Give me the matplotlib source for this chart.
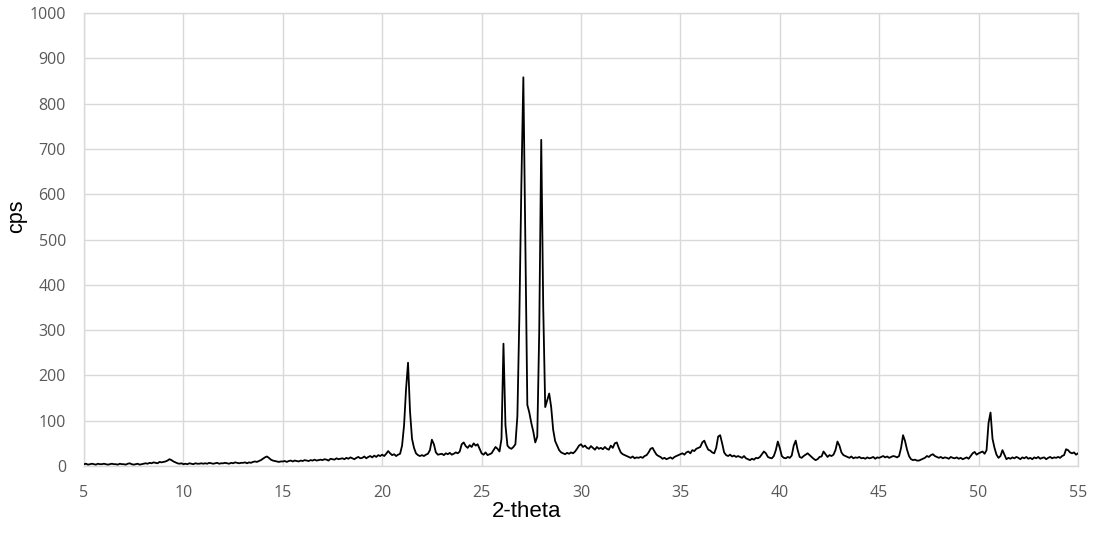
import numpy as np
import matplotlib
matplotlib.use("Agg")
import matplotlib.pyplot as plt

# 2-theta grid start/step (0.1 deg) and measured cps per 1-degree row
theta_start = 5.0
theta_step = 0.1
cps_rows = [
    [4, 5, 3, 4, 5, 4, 3, 5, 4, 4],            # 5
    [5, 4, 3, 4, 5, 4, 4, 3, 5, 4],            # 6
    [4, 3, 5, 6, 4, 3, 4, 5, 3, 4],            # 7
    [5, 6, 5, 7, 6, 8, 7, 6, 9, 8],            # 8
    [9, 10, 12, 15, 13, 10, 8, 6, 5, 6],       # 9
    [4, 5, 4, 6, 5, 4, 6, 5, 5, 6],            # 10
    [5, 6, 5, 7, 6, 5, 6, 7, 5, 6],            # 11
    [6, 7, 6, 5, 7, 6, 8, 7, 6, 7],            # 12
    [7, 8, 6, 8, 7, 9, 10, 9, 11, 13],         # 13
    [16, 19, 21, 18, 14, 12, 11, 10, 9, 10],   # 14
    [10, 11, 9, 11, 12, 10, 12, 11, 10, 12],   # 15
    [11, 13, 12, 11, 13, 12, 14, 12, 13, 14],  # 16
    [13, 15, 14, 12, 16, 15, 14, 17, 15, 16],  # 17
    [17, 15, 18, 16, 19, 17, 15, 18, 20, 17],  # 18
    [18, 21, 17, 20, 22, 19, 23, 20, 24, 22],  # 19
    [25, 22, 27, 33, 28, 24, 26, 22, 25, 27],  # 20
    [45, 90, 170, 228, 120, 60, 40, 28, 24, 22],   # 21
    [24, 22, 25, 27, 35, 58, 48, 30, 25, 26],  # 22
    [27, 24, 28, 26, 29, 25, 27, 30, 28, 32],  # 23
    [48, 52, 44, 40, 46, 42, 50, 45, 48, 38],  # 24
    [28, 25, 30, 24, 26, 28, 35, 42, 38, 32],  # 25
    [60, 270, 90, 45, 40, 38, 42, 48, 110, 330],   # 26
    [620, 858, 500, 135, 118, 95, 76, 52, 65, 300],  # 27
    [720, 350, 130, 145, 160, 130, 80, 55, 45, 35],  # 28
    [30, 28, 26, 29, 27, 30, 28, 32, 38, 45],  # 29
    [48, 42, 45, 40, 38, 44, 40, 36, 42, 38],  # 30
    [40, 37, 42, 38, 36, 45, 40, 50, 52, 40],  # 31
    [30, 26, 24, 22, 20, 18, 21, 17, 19, 18],  # 32
    [20, 18, 22, 24, 30, 38, 40, 32, 25, 22],  # 33
    [20, 16, 18, 15, 17, 19, 16, 20, 22, 24],  # 34
    [26, 28, 25, 30, 32, 28, 35, 33, 38, 40],  # 35
    [42, 52, 56, 45, 36, 34, 30, 28, 40, 65],  # 36
    [68, 50, 30, 24, 22, 25, 21, 23, 20, 22],  # 37
    [20, 18, 22, 17, 15, 13, 16, 14, 18, 17],  # 38
    [20, 26, 32, 28, 20, 18, 17, 22, 35, 54],  # 39
    [40, 22, 18, 17, 20, 18, 23, 45, 56, 35],  # 40
    [20, 18, 22, 25, 28, 24, 20, 16, 13, 15],  # 41
    [20, 21, 32, 26, 20, 24, 22, 25, 35, 54],  # 42
    [45, 30, 24, 22, 20, 18, 21, 17, 19, 18],  # 43
    [20, 17, 18, 16, 19, 17, 18, 20, 16, 19],  # 44
    [18, 20, 22, 19, 21, 18, 20, 22, 21, 19],  # 45
    [22, 40, 68, 55, 36, 22, 15, 13, 14, 12],  # 46
    [12, 14, 16, 18, 22, 20, 24, 26, 22, 20],  # 47
    [18, 20, 17, 19, 18, 16, 20, 18, 17, 19],  # 48
    [16, 18, 15, 17, 19, 16, 22, 28, 31, 25],  # 49
    [28, 30, 32, 27, 35, 95, 118, 60, 40, 25], # 50
    [18, 22, 35, 25, 15, 18, 16, 19, 17, 20],  # 51
    [18, 15, 19, 17, 20, 16, 18, 15, 19, 17],  # 52
    [20, 16, 18, 19, 15, 18, 20, 17, 19, 18],  # 53
    [20, 18, 22, 24, 37, 35, 30, 28, 30, 25],  # 54
    [28],                                      # 55
]
x_ticks = [5, 10, 15, 20, 25, 30, 35, 40, 45, 50, 55]
y_ticks = [0, 100, 200, 300, 400, 500, 600, 700, 800, 900, 1000]
x_label = "2-theta"
y_label = "cps"

cps = np.array([v for row in cps_rows for v in row], dtype=float)
two_theta = theta_start + theta_step * np.arange(len(cps))

fig = plt.figure(figsize=(10.95, 5.33), dpi=100)
ax = fig.add_axes([84 / 1095, 67 / 533, 994 / 1095, 453 / 533])

ax.plot(two_theta, cps, color="black", linewidth=1.3, zorder=3)

ax.set_xlim(5, 55)
ax.set_ylim(0, 1000)
ax.set_xticks(x_ticks)
ax.set_yticks(y_ticks)
ax.grid(True, color="#d9d9d9", linewidth=1.0, zorder=0)
for s in ax.spines.values():
    s.set_color("#d9d9d9")
    s.set_linewidth(1.0)
ax.tick_params(length=0, labelsize=11.5, labelcolor="#595959")
ax.tick_params(axis="x", pad=14)
ax.tick_params(axis="y", pad=13)
for lab in ax.get_xticklabels() + ax.get_yticklabels():
    lab.set_fontfamily("Open Sans")

ax.set_xlabel(x_label, fontsize=16, family="Liberation Sans", color="black")
ax.set_ylabel(y_label, fontsize=15.5, family="Liberation Sans", color="black")
ax.xaxis.set_label_coords(0.4457, -0.077)
ax.yaxis.set_label_coords(-0.0576, 0.552)

fig.savefig("out.png", dpi=100)
